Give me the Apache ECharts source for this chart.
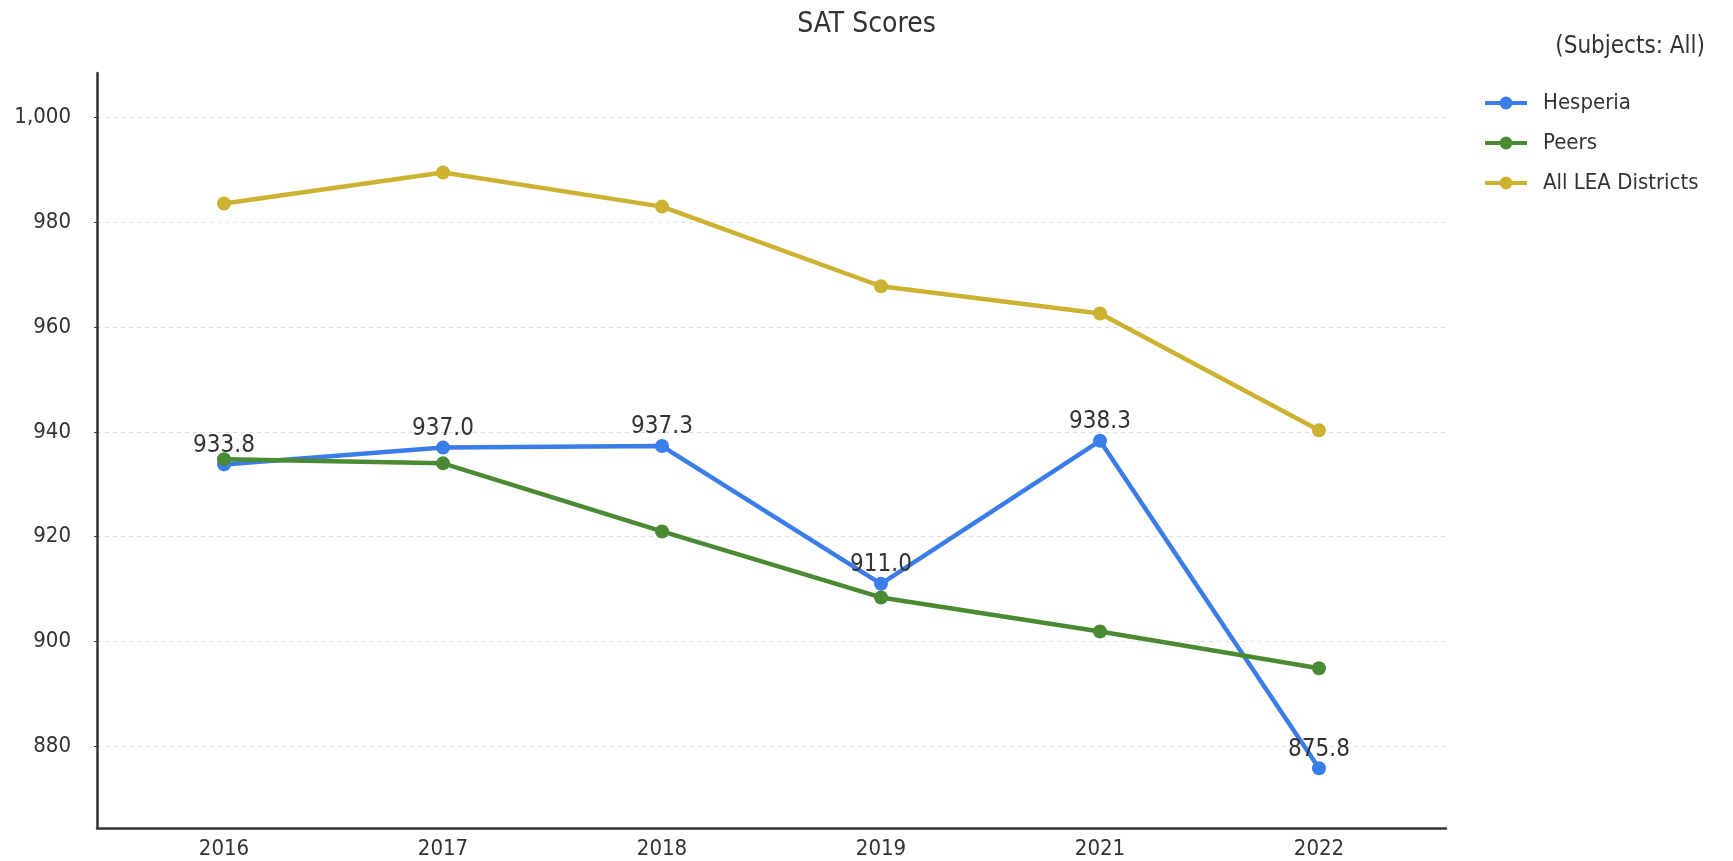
<!DOCTYPE html>
<html>
<head>
<meta charset="utf-8">
<title>SAT Scores</title>
<script src="https://cdn.jsdelivr.net/npm/echarts@6/dist/echarts.min.js"></script>
<style>
    html, body { margin: 0; padding: 0; background: #fff; }
    #chart { width: 1733px; height: 861px; }
</style>
</head>
<body>
<div id="chart"></div>
<script>
    // 数据
    var years = ['2016', '2017', '2018', '2019', '2021', '2022'];
    var hesperia = [933.8, 937.0, 937.3, 911.0, 938.3, 875.8];
    var peers = [934.8, 934.0, 921.0, 908.4, 901.9, 894.9];
    var allLea = [983.6, 989.5, 983.0, 967.8, 962.6, 940.3];

    var font = "'Liberation Sans Narrow', 'DejaVu Sans Condensed', sans-serif";

    function pairs(arr) {
        return arr.map(function (v, i) { return [i, v]; });
    }

    function lineSeries(name, data, color, showLabel) {
        return {
            name: name,
            type: 'line',
            data: pairs(data),
            symbol: 'circle',
            symbolSize: 14,
            lineStyle: { width: 4.5, color: color },
            itemStyle: { color: color },
            label: {
                show: showLabel,
                position: 'top',
                distance: 0,
                color: '#333',
                fontFamily: font,
                fontSize: 24,
                formatter: function (p) { return p.value[1].toFixed(1); }
            },
            emphasis: { disabled: true }
        };
    }

    var chart = echarts.init(document.getElementById('chart'));
    chart.setOption({
        animation: false,
        title: [{
            text: 'SAT Scores',
            left: 'center',
            top: 6,
            textStyle: { fontFamily: font, fontSize: 28, fontWeight: 'normal', color: '#333' }
        }, {
            text: '(Subjects: All)',
            right: 23,
            top: 30,
            textStyle: { fontFamily: font, fontSize: 24, fontWeight: 'normal', color: '#333' }
        }],
        legend: {
            orient: 'vertical',
            left: 1483,
            top: 92,
            padding: 0,
            itemWidth: 42,
            itemHeight: 16,
            itemGap: 18,
            lineStyle: { width: 4 },
            textStyle: { fontFamily: font, fontSize: 22, color: '#333', padding: [0, 0, 0, 11] },
            data: ['Hesperia', 'Peers', 'All LEA Districts']
        },
        grid: { left: 97, right: 287, top: 73, bottom: 33, containLabel: false },
        xAxis: {
            type: 'value',
            min: -0.58,
            max: 5.58,
            splitNumber: 6,
            axisLine: { onZero: false, lineStyle: { color: '#333', width: 2.5 } },
            axisTick: { show: false },
            splitLine: { show: false },
            axisLabel: {
                showMinLabel: false,
                showMaxLabel: false,
                margin: 10,
                color: '#333',
                fontFamily: font,
                fontSize: 22,
                formatter: function (v) {
                    return Number.isInteger(v) ? years[v] : '';
                }
            }
        },
        yAxis: {
            type: 'value',
            min: 864.4,
            max: 1008.5,
            splitNumber: 7,
            axisLine: { show: true, onZero: false, lineStyle: { color: '#333', width: 2.5 } },
            axisTick: { show: true, length: 3, lineStyle: { color: '#333' } },
            splitLine: {
                show: true,
                showMinLine: false,
                showMaxLine: false,
                lineStyle: { color: '#ddd', type: [4, 4], width: 1 }
            },
            axisLabel: {
                showMinLabel: false,
                showMaxLabel: false,
                margin: 26,
                color: '#333',
                fontFamily: font,
                fontSize: 22,
                formatter: function (v) { return v.toLocaleString('en-US'); }
            }
        },
        series: [
            lineSeries('Hesperia', hesperia, '#3b7de8', true),
            lineSeries('Peers', peers, '#4a8a34', false),
            lineSeries('All LEA Districts', allLea, '#cdb130', false)
        ]
    });
</script>
</body>
</html>
